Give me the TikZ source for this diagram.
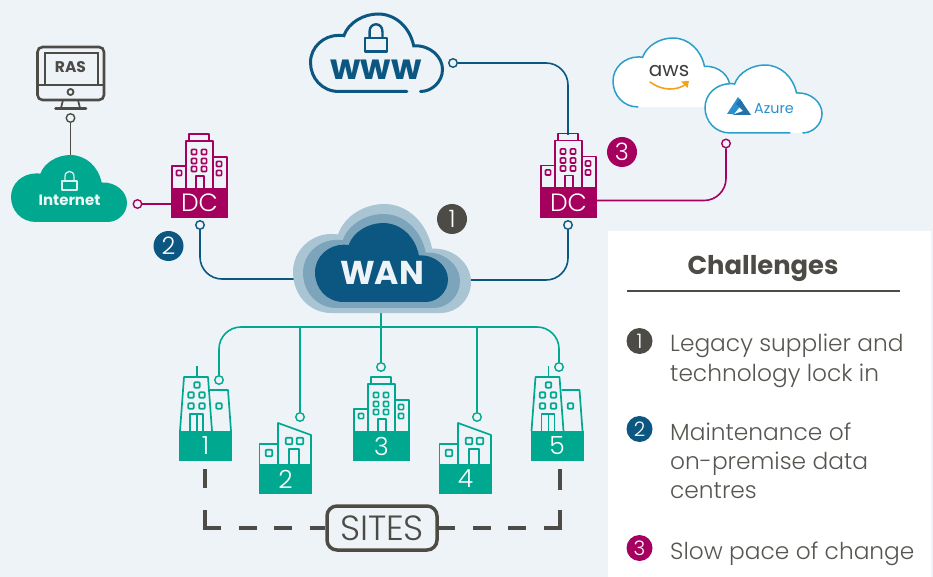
\documentclass[tikz,border=0pt]{standalone}
\usepackage{fontspec}
\setmainfont{Poppins}
\newfontfamily\lightf{Poppins Light}
\definecolor{bgc}{HTML}{EEF3F8}
\definecolor{dark}{HTML}{4D4B46}
\definecolor{body}{HTML}{575651}
\definecolor{blu}{HTML}{0B5781}
\definecolor{blumid}{HTML}{7CA5BC}
\definecolor{blulow}{HTML}{A9C5D4}
\definecolor{teal2}{HTML}{00A88F}
\definecolor{mag}{HTML}{A6005F}
\definecolor{sky}{HTML}{2A9FC9}
\definecolor{azu}{HTML}{2A8FD0}
\definecolor{org}{HTML}{F7A11B}
\newcommand\cloudopen{(75,200) .. controls (30,200) and (0,165) .. (0,125) .. controls (0,85) and (35,55) .. (75,55) .. controls (80,55) and (85,55) .. (88,56) .. controls (100,22) and (140,0) .. (178,0) .. controls (225,0) and (262,35) .. (272,82) .. controls (315,80) and (348,110) .. (348,143) .. controls (348,175) and (320,200) .. (290,200)}
\tikzset{
  x=1pt,y=-1pt,
  cloudbox/.style n args={4}{shift={(#1,#2)},xscale=#3/348,yscale=#4/200},
  ring/.style={circle,draw=#1,fill=bgc,line width=1.4pt,minimum size=8.5pt,inner sep=0pt},
  wire/.style={draw=#1,line width=1.6pt},
  badge/.style={circle,fill=#1,text=white,inner sep=0pt,font=\lightf\fontsize{24}{24}\selectfont},
  minibadge/.style={circle,fill=#1,text=white,inner sep=0pt,minimum size=26pt,font=\lightf\fontsize{20}{20}\selectfont},
  base/.style={fill=#1,text=white,inner sep=0pt,font=\lightf\fontsize{25}{25}\selectfont},
  bline/.style={draw=#1,line width=1.7pt,line join=round},
  lst/.style={anchor=base west,inner sep=0pt,text=body,font=\lightf\fontsize{23.3}{24}\selectfont},
}
\newcommand\tower[4]{% name, dx, dy, colour
  \begin{scope}[shift={(#2,#3)}]
    \draw[bline=#4] (172,188) -- (172,166) -- (186,166);
    \draw[bline=#4] (186,188) -- (186,141) -- (213,141) -- (213,188);
    \draw[bline=#4] (189,141) -- (189,134) -- (209,134) -- (209,141);
    \draw[bline=#4] (213,157) -- (227,157) -- (227,188);
    \draw[bline=#4] (196,188) -- (196,176) -- (204,176) -- (204,188);
    \foreach \wx/\wy in {194/152,204/152,194/161,204/161,194/169,204/169,179/173,219/164,219/173}
      \draw[bline=#4,rounded corners=1pt] (\wx-2.6,\wy-2.6) rectangle (\wx+2.6,\wy+2.6);
  \end{scope}}
\newcommand\slim[2]{% dx, colour
  \begin{scope}[shift={(#1,0)}]
    \draw[bline=#2] (180,431) -- (184,377) -- (208,377) -- (212,431);
    \draw[bline=#2] (210,390) -- (228,390) -- (231,431);
    \draw[bline=#2] (197,366) -- (197,377);
    \draw[bline=#2] (190,431) -- (190,414) -- (203,414) -- (203,431);
    \draw[bline=#2] (197,414) -- (197,431);
    \foreach \wx/\wy in {197/385,191/395,202/395,191/406,202/406,219/406}
      \draw[bline=#2,rounded corners=1pt] (\wx-2.8,\wy-2.8) rectangle (\wx+2.8,\wy+2.8);
  \end{scope}}
\newcommand\house[2]{% dx, colour
  \begin{scope}[shift={(#1,0)}]
    \draw[bline=#2] (259.5,464) -- (259.5,444) -- (278,444);
    \draw[bline=#2] (278,464) -- (278,423) -- (311,435) -- (311,464);
    \draw[bline=#2] (289,464) -- (289,449) -- (299,449) -- (299,464);
    \foreach \wx/\wy in {289/441,300/441,269/453}
      \draw[bline=#2,rounded corners=1pt] (\wx-3.3,\wy-3.3) rectangle (\wx+3.3,\wy+3.3);
  \end{scope}}
\newcommand\lockicon[6]{% colour, width, cx, body top, body w, body h
  \draw[draw=#1,line width=#2pt,line join=round] (#3-#5/2,#4) rectangle (#3+#5/2,#4+#6);
  \draw[draw=#1,line width=#2pt] (#3-#5*0.3,#4) -- (#3-#5*0.3,#4-#5*0.3) .. controls (#3-#5*0.3,#4-#5*0.75) and (#3+#5*0.3,#4-#5*0.75) .. (#3+#5*0.3,#4-#5*0.3) -- (#3+#5*0.3,#4);
}
\begin{document}
\begin{tikzpicture}
\useasboundingbox (0,0) rectangle (933,577);
\fill[bgc] (0,0) rectangle (933,577);
\fill[white] (608,231) rectangle (931,577);

% named connection points
\node[ring=dark] (rras) at (70.5,118) {};
\coordinate (inetTop) at (70.5,156);
\node[ring=mag] (rinet) at (137.5,204) {};
\node[ring=blu] (rdc1) at (200,225) {};
\node[ring=blu] (rdc2) at (568,225) {};
\node[ring=blu] (rwww) at (453,63) {};
\node[ring=mag] (rcloud) at (726,143.5) {};
\node[ring=teal2] (rs1) at (219,380) {};
\node[ring=teal2] (rs2) at (300,417) {};
\node[ring=teal2] (rs3) at (381,367) {};
\node[ring=teal2] (rs4) at (477,417) {};
\node[ring=teal2] (rs5) at (559,367) {};
\coordinate (wanL) at (325,279);
\coordinate (wanR) at (440,280);
\coordinate (wanB) at (381,300);
\coordinate (busL) at (219,327);
\coordinate (busR) at (559,327);
\coordinate (wwwCorner) at (568,63);
\coordinate (dc2Top) at (568,135);
\coordinate (magCorner) at (726,200.5);

% bases
\node[base=mag,minimum width=57pt,minimum height=30.5pt] (dc1) at (199.5,203) {DC};
\node[base=mag,minimum width=57pt,minimum height=31pt] (dc2) at (568.5,202.5) {DC};
\node[base=teal2,minimum width=53pt,minimum height=30pt] (s1) at (205.5,446) {1};
\node[base=teal2,minimum width=53pt,minimum height=30pt] (s2) at (285.5,479) {2};
\node[base=teal2,minimum width=57pt,minimum height=30pt] (s3) at (381.5,446) {3};
\node[base=teal2,minimum width=53pt,minimum height=30pt] (s4) at (465.5,479) {4};
\node[base=teal2,minimum width=53pt,minimum height=30pt] (s5) at (557,446) {5};

% connectors
\draw[wire=dark] (rras) -- (inetTop);
\draw[wire=mag] (rinet) -- (rinet -| dc1.west);
\draw[wire=blu,rounded corners=22pt] (rdc1) |- (wanL);
\draw[wire=blu,rounded corners=22pt] (rdc2) |- (wanR);
\draw[wire=blu,rounded corners=22pt] (rwww) -- (wwwCorner) -- (dc2Top);
\draw[wire=mag,rounded corners=22pt] (dc2.east |- magCorner) -- (magCorner) -- (rcloud);
\draw[wire=teal2,rounded corners=22pt] (rs1) -- (busL) -- (busR) -- (rs5);
\draw[wire=teal2] (wanB) -- (rs3);
\draw[wire=teal2] (rs2) -- (rs2 |- busL);
\draw[wire=teal2] (rs4) -- (rs4 |- busL);

% RAS monitor
\draw[draw=dark,line width=2.6pt,rounded corners=5pt] (37.5,47) rectangle (104,100);
\draw[draw=dark,line width=2pt] (44.5,85) -- (44.5,53.5) -- (97.5,53.5) -- (97.5,85);
\draw[draw=dark,line width=2.4pt] (37.5,85) -- (104,85);
\draw[draw=dark,line width=1.8pt] (70.5,92) circle (3);
\draw[draw=dark,line width=1.8pt] (63,100) -- (61,108) (78,100) -- (80,108);
\draw[draw=dark,line width=2.6pt,line cap=round] (55.5,108.5) -- (86,108.5);
\node[text=dark,inner sep=0pt,font=\bfseries\fontsize{15.5}{16}\selectfont] (ras) at (70.5,67) {RAS};

% Internet cloud
\begin{scope}[cloudbox={11}{155}{116}{67}]
  \fill[teal2] \cloudopen -- cycle;
\end{scope}
\lockicon{white!85!teal2}{1.3}{69.5}{181}{15}{9}
\node[text=white!92!teal2,inner sep=0pt,font=\bfseries\fontsize{15}{15}\selectfont] (inet) at (69.5,200) {Internet};

% WWW cloud
\begin{scope}[cloudbox={310.5}{14}{132}{77.5}]
  \draw[draw=blu,line width=3pt,line cap=round] (254,200) -- \cloudopen;
\end{scope}
\lockicon{blu}{2.4}{376}{38}{21.5}{13.5}
\node[text=blu,inner sep=0pt,font=\bfseries\fontsize{35}{35}\selectfont] (www) at (376,69.5) {www};

% WAN cloud
\begin{scope}[cloudbox={293}{204}{178}{109}]
  \fill[blulow] \cloudopen -- cycle;
\end{scope}
\begin{scope}[cloudbox={303}{214}{157}{94}]
  \fill[blumid] \cloudopen -- cycle;
\end{scope}
\begin{scope}[cloudbox={315}{223}{133}{79}]
  \fill[blu] \cloudopen -- cycle;
\end{scope}
\node[text=bgc,inner sep=0pt,font=\bfseries\fontsize{33}{33}\selectfont] (wan) at (382,273) {WAN};

% aws + Azure clouds
\begin{scope}[cloudbox={613}{38}{117}{69}]
  \fill[white] \cloudopen -- cycle;
  \draw[draw=sky,line width=1.5pt] \cloudopen;
\end{scope}
\node[text=black!75!bgc,inner sep=0pt,font=\fontsize{20}{20}\selectfont] (aws) at (669,71) {aws};
\draw[draw=org,line width=1.6pt,line cap=round] (650,82) .. controls (662,91) and (677,91) .. (686,84);
\fill[org] (681,81.5) -- (689,81) -- (687.5,88) -- cycle;
\begin{scope}[cloudbox={705}{65}{117}{68}]
  \fill[white] \cloudopen -- cycle;
  \draw[draw=sky,line width=1.5pt] (254,200) -- \cloudopen;
\end{scope}
\fill[azu] (738,97) -- (727,114) -- (734,114) -- (743,103) -- cycle;
\fill[azu!80!black] (740,99) -- (751,115) -- (732,115) -- (743,111) -- (736,104) -- cycle;
\node[text=azu,inner sep=0pt,anchor=west,font=\fontsize{14.3}{15}\selectfont] (azure) at (754,109) {Azure};

% buildings
\tower{dcb1}{0}{0}{mag}
\tower{dcb2}{369}{-0.5}{mag}
\tower{sb3}{182}{243}{teal2}
\slim{0}{teal2}
\slim{351.5}{teal2}
\house{0}{teal2}
\house{180}{teal2}

% badges
\node[badge=dark,minimum size=30pt] (b1) at (452,219) {1};
\node[badge=blu,minimum size=30pt] (b2) at (168.5,246) {2};
\node[badge=mag,minimum size=30pt] (b3) at (622,152) {3};

% SITES
\node[draw=dark,line width=3.5pt,rounded corners=10pt,minimum width=110pt,minimum height=44pt,inner sep=0pt,text=dark,font=\lightf\fontsize{35}{35}\selectfont] (sites) at (382,528) {SITES};
\coordinate (dashL) at (205,469);
\coordinate (dashR) at (560,469);
\draw[draw=dark,line width=3.5pt,line join=miter,dash pattern=on 19pt off 22pt on 34pt off 18pt on 18pt off 17pt on 18pt off 18pt on 16pt off 5pt] (dashL) |- (sites.west);
\draw[draw=dark,line width=3.5pt,line join=miter,dash pattern=on 21pt off 20pt on 34pt off 18pt on 18pt off 17pt on 18pt off 18pt on 16pt off 5pt] (dashR) |- (sites.east);

% Challenges panel
\node[text=dark,inner sep=0pt,font=\bfseries\fontsize{25.8}{26}\selectfont] (title) at (763,269) {Challenges};
\coordinate (ruleL) at (627,291);
\coordinate (ruleR) at (900,291);
\draw[draw=dark,line width=2.4pt] (ruleL) -- (ruleR);
\node[minibadge=dark] (m1) at (639.5,341) {1};
\node[minibadge=blu] (m2) at (639.5,429) {2};
\node[minibadge=mag] (m3) at (639.5,548) {3};
\node[lst] (t1) at (670,351) {Legacy supplier and};
\node[lst] (t2) at (670,381) {technology lock in};
\node[lst] (t3) at (670,440) {Maintenance of};
\node[lst] (t4) at (670,469) {on-premise data};
\node[lst] (t5) at (670,498) {centres};
\node[lst] (t6) at (670,559) {Slow pace of change};
\end{tikzpicture}
\end{document}
